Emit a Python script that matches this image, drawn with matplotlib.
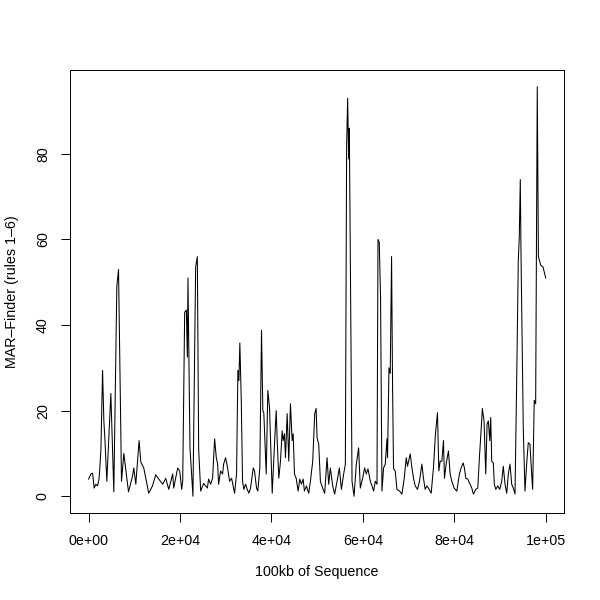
import matplotlib
matplotlib.use("Agg")
import matplotlib.pyplot as plt
from matplotlib.ticker import FixedLocator

# position along the sequence (kb) and MAR-Finder score
pos_kb = [0.00, 0.50, 0.87, 1.22, 1.59, 1.96, 2.31, 2.69, 3.06, 3.34, 3.56, 3.99,
          4.87, 5.52, 6.18, 6.55, 7.20, 7.71, 8.73, 9.61, 9.89, 10.33, 11.05, 11.42,
          12.07, 12.51, 13.16, 13.97, 14.47, 14.69, 15.35, 16.22, 16.88, 17.53, 18.40,
          18.62, 19.49, 19.93, 20.37, 20.59, 21.02, 21.39, 21.61, 21.74, 22.18, 22.83,
          23.42, 23.79, 24.08, 24.52, 25.17, 25.98, 26.26, 26.70, 27.13, 27.57, 27.94,
          28.23, 28.44, 28.88, 29.32, 29.54, 29.97, 30.41, 30.85, 31.28, 31.72, 31.94,
          32.37, 32.66, 32.88, 33.09, 33.40, 33.68, 33.97, 34.34, 34.71, 35.06, 35.43,
          36.02, 36.30, 36.74, 37.02, 37.46, 37.83, 38.12, 38.33, 38.86, 39.21, 39.58,
          40.17, 40.67, 41.04, 41.26, 41.61, 41.98, 42.35, 42.57, 42.85, 43.07, 43.44,
          43.79, 44.16, 44.53, 44.75, 45.04, 45.41, 45.84, 46.19, 46.56, 46.93, 47.22,
          47.66, 48.16, 48.53, 49.03, 49.47, 49.77, 49.99, 50.34, 50.71, 51.21, 51.65,
          52.17, 52.52, 52.89, 53.40, 53.83, 54.36, 54.86, 55.30, 55.80, 56.17, 56.45,
          56.67, 56.89, 57.04, 57.63, 58.07, 58.57, 59.07, 59.44, 59.95, 60.38, 60.75,
          61.12, 61.63, 62.00, 62.35, 62.72, 63.09, 63.31, 63.59, 63.87, 64.18, 64.53,
          64.90, 65.27, 65.40, 65.71, 65.99, 66.28, 66.50, 66.71, 67.08, 67.45, 68.02,
          68.55, 69.05, 69.49, 69.77, 70.36, 70.73, 71.08, 71.45, 71.95, 72.39, 72.91,
          73.26, 73.63, 74.00, 74.51, 74.94, 75.44, 75.88, 76.32, 76.62, 76.91, 77.28,
          77.63, 77.85, 78.22, 78.72, 79.09, 79.46, 79.96, 80.55, 81.12, 81.49, 81.93,
          82.21, 82.52, 82.95, 83.46, 83.83, 84.18, 84.70, 85.14, 85.49, 85.86, 86.14,
          86.51, 86.88, 87.17, 87.45, 87.76, 87.97, 88.19, 88.54, 88.76, 89.07, 89.50,
          89.94, 90.38, 90.72, 91.10, 91.47, 91.82, 92.19, 92.56, 92.91, 93.28, 93.65,
          94.00, 94.22, 94.44, 94.59, 95.09, 95.46, 95.83, 96.18, 96.55, 96.92, 97.14,
          97.49, 97.80, 98.15, 98.40, 98.90, 99.40, 100.00]
score = [4.0, 5.2, 5.4, 1.9, 2.8, 2.4, 4.2, 10.6, 29.4, 17.6, 13.6, 3.5,
         24.0, 1.0, 49.0, 53.0, 3.5, 10.0, 1.0, 4.7, 6.6, 2.8, 13.0, 8.0,
         6.6, 4.2, 0.7, 2.4, 4.2, 5.0, 4.0, 2.8, 4.2, 1.6, 5.2,
         1.9, 6.6, 5.9, 1.6, 3.5, 43.0, 43.5, 32.5, 51.0, 11.3, 0.0,
         53.6, 56.0, 11.0, 1.2, 3.0, 1.9, 4.0, 2.8, 4.2, 13.4, 9.0,
         7.5, 2.8, 5.9, 5.2, 7.5, 9.0, 6.6, 3.5, 4.2, 1.9, 0.7,
         5.2, 29.4, 27.0, 35.8, 22.4, 3.5, 1.6, 2.8, 1.6, 0.7, 1.9,
         6.6, 5.9, 1.9, 1.2, 6.6, 38.8, 20.0, 19.5, 5.2, 24.7, 20.7,
         0.7, 12.2, 20.0, 13.0, 4.2, 8.2, 15.3, 13.0, 14.6, 9.0, 19.3,
         8.2, 21.6, 13.0, 14.6, 5.2, 4.2, 1.2, 4.0, 2.8, 4.0, 1.2,
         2.4, 0.7, 3.5, 8.2, 19.3, 20.5, 13.6, 12.2, 3.5, 1.9, 0.7,
         9.0, 2.8, 6.6, 2.4, 0.5, 3.5, 6.6, 1.6, 5.2, 7.5, 82.0,
         93.0, 78.8, 86.0, 3.5, 0.0, 7.5, 11.3, 1.9, 4.2, 6.6, 5.2,
         6.4, 3.5, 2.4, 1.2, 3.5, 2.8, 60.0, 59.3, 46.6, 1.2, 6.6,
         7.5, 13.4, 9.0, 30.0, 28.7, 56.0, 25.4, 6.4, 5.9, 1.6, 1.2,
         0.5, 4.2, 9.0, 7.0, 9.9, 6.6, 4.2, 2.4, 1.6, 3.5, 7.5,
         4.2, 1.6, 2.4, 1.6, 0.7, 6.6, 14.6, 19.5, 5.9, 8.2, 8.2,
         13.0, 4.2, 7.5, 10.6, 5.2, 3.5, 1.9, 1.2, 5.2, 6.6, 7.8,
         6.6, 4.2, 4.0, 2.8, 1.9, 0.5, 1.6, 1.9, 9.0, 15.3, 20.5,
         17.6, 5.2, 16.9, 17.6, 13.0, 18.4, 8.2, 7.8, 2.8, 1.6, 2.4,
         1.6, 3.5, 7.0, 2.8, 0.7, 5.2, 7.5, 2.8, 1.9, 0.5, 27.0,
         55.0, 60.7, 74.0, 57.0, 16.0, 1.2, 7.5, 12.5, 12.2, 5.2, 1.6,
         22.4, 21.6, 95.7, 56.0, 54.0, 53.6, 51.0]

x_ticks = [0, 20000, 40000, 60000, 80000, 100000]
x_labels = ["0e+00", "2e+04", "4e+04", "6e+04", "8e+04", "1e+05"]
y_ticks = [0, 20, 40, 60, 80]

plt.rcParams['font.family'] = ['Liberation Sans', 'DejaVu Sans']

fig = plt.figure(figsize=(6, 6), dpi=100)
fig.patch.set_facecolor('white')
# box placed like R's default margins (5.1, 4.1, 4.1, 2.1 lines)
ax = fig.add_axes([70.3 / 600, 1 - 512.6 / 600, (564 - 70.3) / 600, (512.6 - 70.3) / 600])

bp = [p * 1000 for p in pos_kb]
ax.plot(bp, score, color='black', linewidth=0.75)

# R style padding (4% on each side)
xr = max(bp) - min(bp)
yr = max(score) - min(score)
ax.set_xlim(min(bp) - 0.04 * xr, max(bp) + 0.04 * xr)
ax.set_ylim(min(score) - 0.04 * yr, max(score) + 0.04 * yr)

ax.xaxis.set_major_locator(FixedLocator(x_ticks))
ax.set_xticklabels(x_labels)
ax.yaxis.set_major_locator(FixedLocator(y_ticks))
ax.set_yticklabels([str(v) for v in y_ticks], rotation=90, va='center')

ax.tick_params(axis='both', direction='out', length=6.2, width=0.7,
               labelsize=10.3, colors='black')
ax.tick_params(axis='x', pad=9.0)
ax.tick_params(axis='y', pad=8.5)
for sp in ax.spines.values():
    sp.set_linewidth(0.7)
    sp.set_color('black')

fig.text(317.2 / 600, 1 - 572 / 600, "100kb of Sequence", ha='center', va='center', fontsize=10.3)
fig.text(12.5 / 600, 1 - 291.5 / 600, "MAR\u2013Finder (rules 1\u20136)", ha='center', va='center',
         rotation=90, fontsize=10.3)

fig.savefig("out.png", dpi=100)
